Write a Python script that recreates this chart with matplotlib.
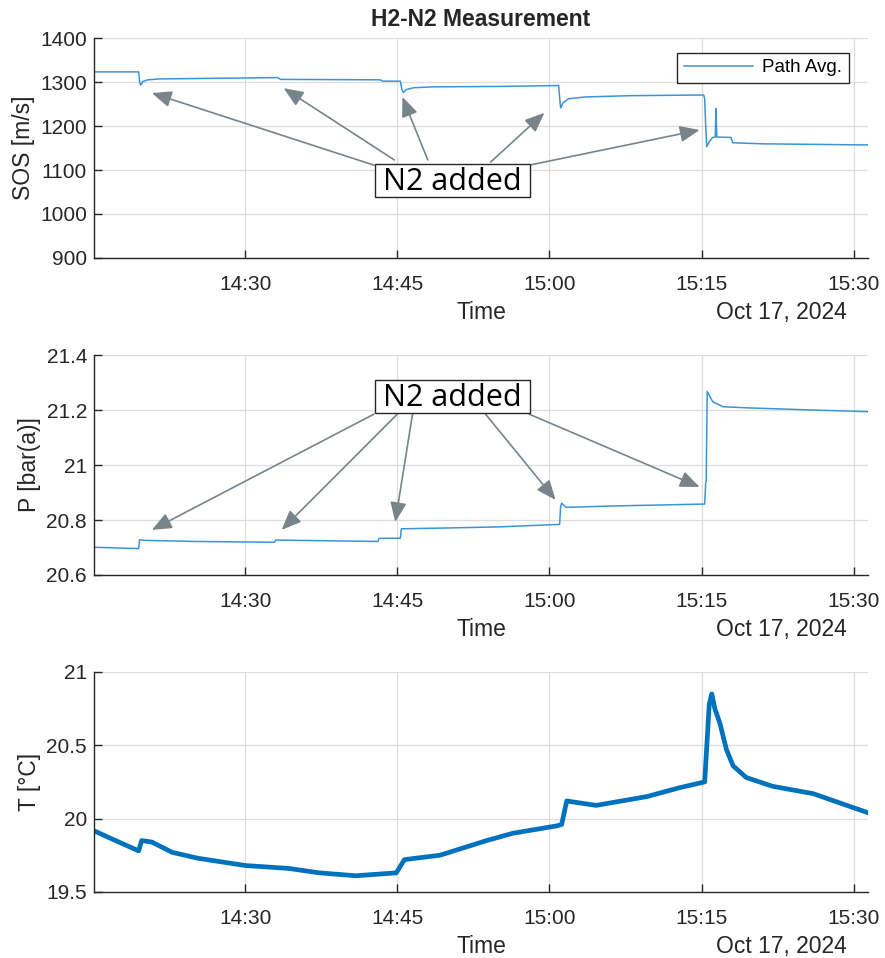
import numpy as np
import pandas as pd
import matplotlib
matplotlib.use("Agg")
import matplotlib.pyplot as plt
import matplotlib.dates as mdates
from matplotlib.patches import Rectangle
from matplotlib.ticker import FuncFormatter, MultipleLocator

plt.rcParams.update({"font.family": ["Liberation Sans", "DejaVu Sans"], "font.size": 15})

BASE = pd.Timestamp("2024-10-17 14:15:00")

# minutes after 14:15
sos_t = [0, 4.5, 4.6, 4.7, 4.9, 5.4, 6.5, 12, 18.2, 18.5, 28.3, 28.6, 30.3, 30.45, 30.6, 30.9,
         31.6, 33.5, 40, 45.9, 46.0, 46.1, 46.35, 46.9, 48.5, 53, 60.2, 60.3, 60.4, 60.5, 60.8,
         61.1, 61.35, 61.4, 61.5, 62.9, 63.05, 66, 76.4]
sos_v = [1323, 1323, 1300, 1293, 1301, 1305, 1307, 1308.5, 1310, 1306, 1305, 1302, 1302, 1283,
         1276, 1283, 1287, 1289, 1290, 1292, 1265, 1241, 1253, 1262, 1266, 1269, 1270.5, 1262,
         1200, 1153, 1166, 1174, 1175, 1240, 1175, 1174, 1162, 1159.5, 1157]

p_t = [0, 4.5, 4.6, 5.0, 10, 17.9, 18.0, 22, 28.1, 28.2, 30.3, 30.4, 35, 40, 46.0, 46.1, 46.2,
       46.65, 51.2, 60.3, 60.4, 60.45, 60.55, 61.1, 62.1, 64.4, 71.0, 76.4]
p_v = [20.701, 20.696, 20.728, 20.726, 20.722, 20.719, 20.727, 20.725, 20.722, 20.733, 20.734,
       20.768, 20.771, 20.775, 20.784, 20.85, 20.861, 20.846, 20.851, 20.858, 20.936, 20.94,
       21.267, 21.23, 21.212, 21.208, 21.2, 21.194]

t_t = [0, 1.9, 4.5, 4.8, 5.8, 7.8, 10.3, 15.0, 19.3, 22.3, 25.9, 29.9, 30.7, 34.2,
       38.8, 41.4, 45.7, 46.2, 46.7, 49.6, 54.6, 57.8, 60.3, 60.75, 61.0, 61.3, 61.8, 62.45,
       63.1, 64.4, 67.0, 71.0, 74.3, 76.4]
t_v = [19.92, 19.86, 19.78, 19.85, 19.84, 19.77, 19.73, 19.68, 19.66, 19.63,
       19.61, 19.63, 19.72, 19.75, 19.85, 19.90, 19.95, 19.96, 20.12, 20.09, 20.15, 20.21,
       20.25, 20.78, 20.85, 20.75, 20.65, 20.47, 20.36, 20.28, 20.22, 20.17, 20.09, 20.04]

# annotation arrows: (tail t, tail v) -> (head t, head v)
sos_heads = [(5.8, 1275), (18.8, 1286), (30.5, 1266), (44.5, 1230), (59.8, 1191)]
sos_tails = [(27.7, 1111), (29.7, 1123), (33.0, 1123), (39.2, 1118), (43.0, 1111)]
p_heads = [(5.8, 20.764), (18.6, 20.764), (29.8, 20.793), (45.6, 20.873), (59.8, 20.92)]
p_tails = [(27.7, 21.185), (30.0, 21.185), (31.5, 21.185), (38.7, 21.185), (43.0, 21.185)]


def to_time(mins):
    return BASE + pd.to_timedelta(np.asarray(mins, dtype=float), unit="min")


def tnum(m):
    return mdates.date2num((BASE + pd.Timedelta(minutes=m)).to_pydatetime())


LINE = "#3a95d8"
DARK = "#262626"
ARROW = "#78848a"

fig = plt.figure(figsize=(8.85, 9.58), dpi=100)
positions = [[0.1062, 0.7307, 0.8746, 0.2296],
             [0.1062, 0.3998, 0.8746, 0.2296],
             [0.1062, 0.0690, 0.8746, 0.2296]]
axes = [fig.add_axes(p) for p in positions]

axes[0].plot(to_time(sos_t), sos_v, color=LINE, lw=1.1, label="Path Avg.")
axes[1].plot(to_time(p_t), p_v, color=LINE, lw=1.1)
axes[2].plot(to_time(t_t), t_v, color="#0072BD", lw=3.4)

axes[0].set_ylim(900, 1400); axes[0].yaxis.set_major_locator(MultipleLocator(100))
axes[1].set_ylim(20.6, 21.4); axes[1].yaxis.set_major_locator(MultipleLocator(0.2))
axes[2].set_ylim(19.5, 21); axes[2].yaxis.set_major_locator(MultipleLocator(0.5))
ylabels = ["SOS [m/s]", "P [bar(a)]", "T [°C]"]

for ax, yl in zip(axes, ylabels):
    ax.set_xlim(tnum(0.1), tnum(76.4))
    ax.xaxis.set_major_locator(mdates.MinuteLocator(byminute=[0, 15, 30, 45]))
    ax.xaxis.set_major_formatter(mdates.DateFormatter("%H:%M"))
    ax.yaxis.set_major_formatter(FuncFormatter(lambda v, p: "%g" % round(v, 3)))
    ax.grid(True, color="#dedede", lw=0.9)
    ax.set_axisbelow(True)
    for s in ["top", "right"]:
        ax.spines[s].set_visible(False)
    for s in ["left", "bottom"]:
        ax.spines[s].set_color(DARK)
        ax.spines[s].set_linewidth(1.0)
    ax.tick_params(direction="in", length=5.5, width=1.0, color=DARK, labelcolor=DARK,
                   labelsize=15)
    ax.tick_params(axis="x", pad=12)
    ax.tick_params(axis="y", pad=5)
    ax.set_ylabel(yl, fontsize=16.5, color=DARK, labelpad=4)
    ax.set_xlabel("Time", fontsize=16.5, color=DARK, va="baseline")
    ax.xaxis.set_label_coords(0.5, -0.276)
    ax.text(0.973, -0.276, "Oct 17, 2024", transform=ax.transAxes, ha="right",
            va="baseline", fontsize=16.5, color=DARK)

axes[0].set_title("H2-N2 Measurement", fontsize=16.5, fontweight="bold", color=DARK, pad=9)
axes[0].legend(loc="upper right", bbox_to_anchor=(0.9755, 0.9332), borderaxespad=0,
               fancybox=False, edgecolor=DARK, framealpha=1, fontsize=13.5,
               handlelength=3.7, borderpad=0.35, handletextpad=0.5)


def add_note(ax, heads, tails, box, base_y):
    for (ht, hv), (tt, tv) in zip(heads, tails):
        ax.annotate("", xy=(tnum(ht), hv), xytext=(tnum(tt), tv),
                    arrowprops=dict(arrowstyle="-|>,head_length=1.2,head_width=0.5",
                                    color=ARROW, lw=1.2, shrinkA=0, shrinkB=0,
                                    mutation_scale=10), zorder=4)
    x0, y0, x1, y1 = box
    ax.add_patch(Rectangle((x0, y0), x1 - x0, y1 - y0, transform=ax.transAxes,
                           facecolor="white", edgecolor=DARK, lw=1.0, zorder=5))
    ax.text((x0 + x1) / 2, base_y, "N2 added", transform=ax.transAxes, ha="center",
            va="baseline", fontsize=22, family=["Open Sans", "DejaVu Sans"],
            color="black", zorder=6)


add_note(axes[0], sos_heads, sos_tails, (0.363, 0.2773, 0.5633, 0.4273), 0.309)
add_note(axes[1], p_heads, p_tails, (0.363, 0.735, 0.5633, 0.886), 0.768)

fig.savefig("out.png", dpi=100)
